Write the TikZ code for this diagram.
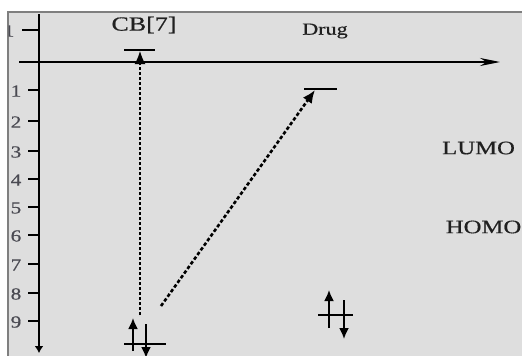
\documentclass[tikz,border=0pt]{standalone}
\usepackage{fontspec}
\setmainfont{Liberation Serif}
\newfontfamily\heavyserif{Liberation Serif}[FakeBold=0.5]
\usepackage{graphicx}
\usetikzlibrary{arrows.meta}
\definecolor{bgpanel}{HTML}{DEDEDE}
\definecolor{bordercol}{HTML}{7F7F7F}
\definecolor{ticklab}{HTML}{4A4A52}
\definecolor{labcol}{HTML}{202020}
\newcommand\stretchtxt[1]{\scalebox{1.3}[1]{#1}}
\newcommand\stretchnum[1]{\scalebox{1.25}[1]{#1}}
\begin{document}
\begin{tikzpicture}[x=1pt,y=-1pt,
  lab/.style={inner sep=0pt, text=labcol, font=\heavyserif\fontsize{19}{19}\selectfont},
  numlab/.style={inner sep=0pt, anchor=east, text=ticklab, font=\heavyserif\fontsize{17}{17}\selectfont},
  axis/.style={line width=1.5pt},
  tk/.style={line width=2pt},
  lvl/.style={line width=2.2pt},
  spinarrow/.style={line width=1.8pt, -{Latex[length=11pt,width=10pt]}},
  vtrans/.style={line width=1.6pt, dash pattern=on 3.2pt off 1.8pt, -{Latex[length=13pt,width=11pt]}},
  dtrans/.style={line width=2.6pt, dash pattern=on 3.5pt off 2.2pt, -{Latex[length=13pt,width=11pt]}}
]
\useasboundingbox (0,0) rectangle (522,356);
\fill[white] (0,0) rectangle (522,356);
\fill[bgpanel] (8,12) rectangle (522,356);
\draw[bordercol, line width=1.2pt] (8,356) -- (8,12) -- (522,12);
\begin{scope}
\clip (8.6,12.6) rectangle (522,356);
% axes
\coordinate (vtop) at (39,14);
\coordinate (vbot) at (39,353);
\draw[axis, -{Latex[length=7pt,width=9pt]}] (vtop) -- (vbot);
\coordinate (hleft) at (19,62);
\coordinate (hright) at (500,62);
\draw[axis, -{Stealth[length=20pt,width=8pt]}] (hleft) -- (hright);
% top tick
\coordinate (t0a) at (22,30);
\coordinate (t0b) at (39,30);
\draw[tk] (t0a) -- (t0b);
\node[numlab] (n0) at (14.5,31) {\stretchnum{1}};
% ticks
\foreach \n/\yy in {1/90,2/121,3/151,4/179,5/207,6/235,7/264,8/293,9/321}{
  \coordinate (ta\n) at (28,\yy);
  \coordinate (tb\n) at (39,\yy);
  \draw[tk] (ta\n) -- (tb\n);
  \node[numlab] (n\n) at (21.5,\yy+1) {\stretchnum{\n}};
}
% labels
\node[lab, font=\heavyserif\fontsize{20}{20}\selectfont] (cb) at (144,25) {\stretchtxt{CB[7]}};
\node[lab, font=\heavyserif\fontsize{17}{17}\selectfont] (drug) at (325,31) {\stretchtxt{Drug}};
\node[lab, anchor=west] (lumo) at (442,148) {\stretchtxt{LUMO}};
\node[lab, anchor=east] (homo) at (521.5,227) {\stretchtxt{HOMO}};
% CB[7] levels
\coordinate (cbLa) at (124,50);
\coordinate (cbLb) at (155,50);
\draw[lvl] (cbLa) -- (cbLb);
\coordinate (cbHa) at (124,344);
\coordinate (cbHb) at (166,344);
\draw[lvl] (cbHa) -- (cbHb);
\coordinate (cbup0) at (133,351);
\coordinate (cbup1) at (133,318);
\draw[spinarrow] (cbup0) -- (cbup1);
\coordinate (cbdn0) at (146,324);
\coordinate (cbdn1) at (146,358);
\draw[spinarrow] (cbdn0) -- (cbdn1);
% Drug levels
\coordinate (drLa) at (304,89);
\coordinate (drLb) at (337,89);
\draw[lvl] (drLa) -- (drLb);
\coordinate (drHa) at (318,315);
\coordinate (drHb) at (353,315);
\draw[lvl] (drHa) -- (drHb);
\coordinate (drup0) at (329,328);
\coordinate (drup1) at (329,290);
\draw[spinarrow] (drup0) -- (drup1);
\coordinate (drdn0) at (344,300);
\coordinate (drdn1) at (344,339);
\draw[spinarrow] (drdn0) -- (drdn1);
% transitions
\coordinate (vt0) at (140,315);
\coordinate (vt1) at (140,51);
\draw[vtrans] (vt0) -- (vt1);
\coordinate (dt0) at (161,306);
\coordinate (dt1) at (315,90);
\draw[dtrans] (dt0) -- (dt1);
\end{scope}
\end{tikzpicture}
\end{document}
